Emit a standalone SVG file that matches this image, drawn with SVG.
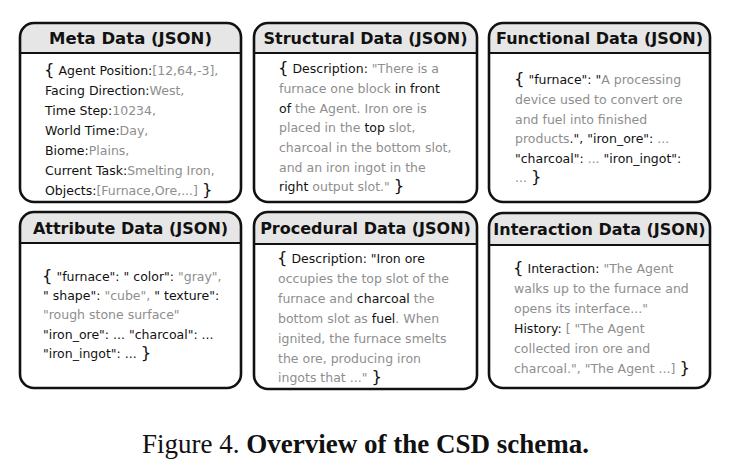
<svg xmlns="http://www.w3.org/2000/svg" width="731" height="475" viewBox="0 0 731 475">
<style>
.box{fill:#ffffff;stroke:none}
.hdr{fill:#e6e6e6;stroke:none}
.div{stroke:#111;stroke-width:2}
.out{fill:none;stroke:#111;stroke-width:2.6}
.title{font-family:"DejaVu Sans",Verdana,sans-serif;font-weight:bold;font-size:16px;fill:#111;text-anchor:middle}
.t{font-family:"DejaVu Sans",Verdana,sans-serif;font-size:12.5px;fill:#111}
.g{fill:#8e8e8e}
.br{font-size:16.5px}
.cap{font-family:"Liberation Serif","Times New Roman",serif;font-size:27px;fill:#111}
</style>
<rect width="731" height="475" fill="#ffffff"/>
<g id="meta">
<rect class="box" x="20" y="23" width="221" height="179" rx="14"/>
<path class="hdr" d="M20,53 V37 A14,14 0 0 1 34,23 H227 A14,14 0 0 1 241,37 V53 Z"/>
<line class="div" x1="20" y1="53" x2="241" y2="53"/>
<rect class="out" x="20" y="23" width="221" height="179" rx="14"/>
<text class="title" x="130.5" y="44" style="font-size:16.5px">Meta Data (JSON)</text>
<text class="t" x="44" y="75" xml:space="preserve"><tspan class="br">{</tspan> Agent Position:<tspan class="g">[12,64,-3],</tspan></text>
<text class="t" x="45" y="95" xml:space="preserve">Facing Direction:<tspan class="g">West,</tspan></text>
<text class="t" x="45" y="115" xml:space="preserve">Time Step:<tspan class="g">10234,</tspan></text>
<text class="t" x="45" y="135" xml:space="preserve">World Time:<tspan class="g">Day,</tspan></text>
<text class="t" x="45" y="155" xml:space="preserve">Biome:<tspan class="g">Plains,</tspan></text>
<text class="t" x="45" y="175" xml:space="preserve">Current Task:<tspan class="g">Smelting Iron,</tspan></text>
<text class="t" x="45" y="195" xml:space="preserve">Objects:<tspan class="g">[Furnace,Ore,...]</tspan> <tspan class="br">}</tspan></text>
</g>
<g id="structural">
<rect class="box" x="254" y="23" width="223" height="179" rx="14"/>
<path class="hdr" d="M254,53 V37 A14,14 0 0 1 268,23 H463 A14,14 0 0 1 477,37 V53 Z"/>
<line class="div" x1="254" y1="53" x2="477" y2="53"/>
<rect class="out" x="254" y="23" width="223" height="179" rx="14"/>
<text class="title" x="365.5" y="44">Structural Data (JSON)</text>
<text class="t" x="278" y="73" xml:space="preserve"><tspan class="br">{</tspan> Description: <tspan class="g">"There is a</tspan></text>
<text class="t" x="279" y="93" xml:space="preserve"><tspan class="g">furnace one block </tspan>in front</text>
<text class="t" x="279" y="113" xml:space="preserve">of<tspan class="g"> the Agent. Iron ore is</tspan></text>
<text class="t" x="279" y="132" xml:space="preserve"><tspan class="g">placed in the </tspan>top<tspan class="g"> slot,</tspan></text>
<text class="t" x="279" y="152" xml:space="preserve"><tspan class="g">charcoal in the bottom slot,</tspan></text>
<text class="t" x="279" y="172" xml:space="preserve"><tspan class="g">and an iron ingot in the</tspan></text>
<text class="t" x="279" y="191" xml:space="preserve">right<tspan class="g"> output slot."</tspan> <tspan class="br">}</tspan></text>
</g>
<g id="functional">
<rect class="box" x="489" y="23" width="221" height="179" rx="14"/>
<path class="hdr" d="M489,53 V37 A14,14 0 0 1 503,23 H696 A14,14 0 0 1 710,37 V53 Z"/>
<line class="div" x1="489" y1="53" x2="710" y2="53"/>
<rect class="out" x="489" y="23" width="221" height="179" rx="14"/>
<text class="title" x="599.5" y="44">Functional Data (JSON)</text>
<text class="t" x="514" y="84" xml:space="preserve"><tspan class="br">{</tspan> "furnace": "<tspan class="g">A processing</tspan></text>
<text class="t" x="515" y="104" xml:space="preserve"><tspan class="g">device used to convert ore</tspan></text>
<text class="t" x="515" y="124" xml:space="preserve"><tspan class="g">and fuel into finished</tspan></text>
<text class="t" x="515" y="143" xml:space="preserve"><tspan class="g">products</tspan>.", "iron_ore": <tspan class="g">...</tspan></text>
<text class="t" x="515" y="163" xml:space="preserve">"charcoal": <tspan class="g">...</tspan> "iron_ingot":</text>
<text class="t" x="515" y="182" xml:space="preserve"><tspan class="g">...</tspan> <tspan class="br">}</tspan></text>
</g>
<g id="attribute">
<rect class="box" x="20" y="212" width="221" height="176" rx="14"/>
<path class="hdr" d="M20,243 V226 A14,14 0 0 1 34,212 H227 A14,14 0 0 1 241,226 V243 Z"/>
<line class="div" x1="20" y1="243" x2="241" y2="243"/>
<rect class="out" x="20" y="212" width="221" height="176" rx="14"/>
<text class="title" x="130.5" y="234">Attribute Data (JSON)</text>
<text class="t" x="42" y="281" xml:space="preserve"><tspan class="br">{</tspan> "furnace": " color": <tspan class="g">"gray",</tspan></text>
<text class="t" x="43" y="300" xml:space="preserve">" shape": <tspan class="g">"cube", </tspan>" texture":</text>
<text class="t" x="43" y="319" xml:space="preserve"><tspan class="g">"rough stone surface"</tspan></text>
<text class="t" x="43" y="339" xml:space="preserve">"iron_ore": ... "charcoal": ...</text>
<text class="t" x="43" y="358" xml:space="preserve">"iron_ingot": ... <tspan class="br">}</tspan></text>
</g>
<g id="procedural">
<rect class="box" x="254" y="212" width="223" height="177" rx="14"/>
<path class="hdr" d="M254,244 V226 A14,14 0 0 1 268,212 H463 A14,14 0 0 1 477,226 V244 Z"/>
<line class="div" x1="254" y1="244" x2="477" y2="244"/>
<rect class="out" x="254" y="212" width="223" height="177" rx="14"/>
<text class="title" x="365.5" y="234">Procedural Data (JSON)</text>
<text class="t" x="277" y="263" xml:space="preserve"><tspan class="br">{</tspan> Description: "Iron ore</text>
<text class="t" x="278" y="283" xml:space="preserve"><tspan class="g">occupies the top slot of the</tspan></text>
<text class="t" x="278" y="303" xml:space="preserve"><tspan class="g">furnace and </tspan>charcoal<tspan class="g"> the</tspan></text>
<text class="t" x="278" y="323" xml:space="preserve"><tspan class="g">bottom slot as </tspan>fuel<tspan class="g">. When</tspan></text>
<text class="t" x="278" y="343" xml:space="preserve"><tspan class="g">ignited, the furnace smelts</tspan></text>
<text class="t" x="278" y="363" xml:space="preserve"><tspan class="g">the ore, producing iron</tspan></text>
<text class="t" x="278" y="382" xml:space="preserve"><tspan class="g">ingots that ..."</tspan> <tspan class="br">}</tspan></text>
</g>
<g id="interaction">
<rect class="box" x="489" y="213" width="221" height="175" rx="14"/>
<path class="hdr" d="M489,245 V227 A14,14 0 0 1 503,213 H696 A14,14 0 0 1 710,227 V245 Z"/>
<line class="div" x1="489" y1="245" x2="710" y2="245"/>
<rect class="out" x="489" y="213" width="221" height="175" rx="14"/>
<text class="title" x="599.5" y="235">Interaction Data (JSON)</text>
<text class="t" x="513" y="273" xml:space="preserve"><tspan class="br">{</tspan> Interaction: <tspan class="g">"The Agent</tspan></text>
<text class="t" x="514" y="293" xml:space="preserve"><tspan class="g">walks up to the furnace and</tspan></text>
<text class="t" x="514" y="313" xml:space="preserve"><tspan class="g">opens its interface..."</tspan></text>
<text class="t" x="514" y="333" xml:space="preserve">History: <tspan class="g">[ "The Agent</tspan></text>
<text class="t" x="514" y="353" xml:space="preserve"><tspan class="g">collected iron ore and</tspan></text>
<text class="t" x="514" y="373" xml:space="preserve"><tspan class="g">charcoal.", "The Agent ...]</tspan> <tspan class="br">}</tspan></text>
</g>
<text class="cap" x="142" y="453" xml:space="preserve">Figure 4. <tspan font-weight="bold">Overview of the CSD schema.</tspan></text>
</svg>
